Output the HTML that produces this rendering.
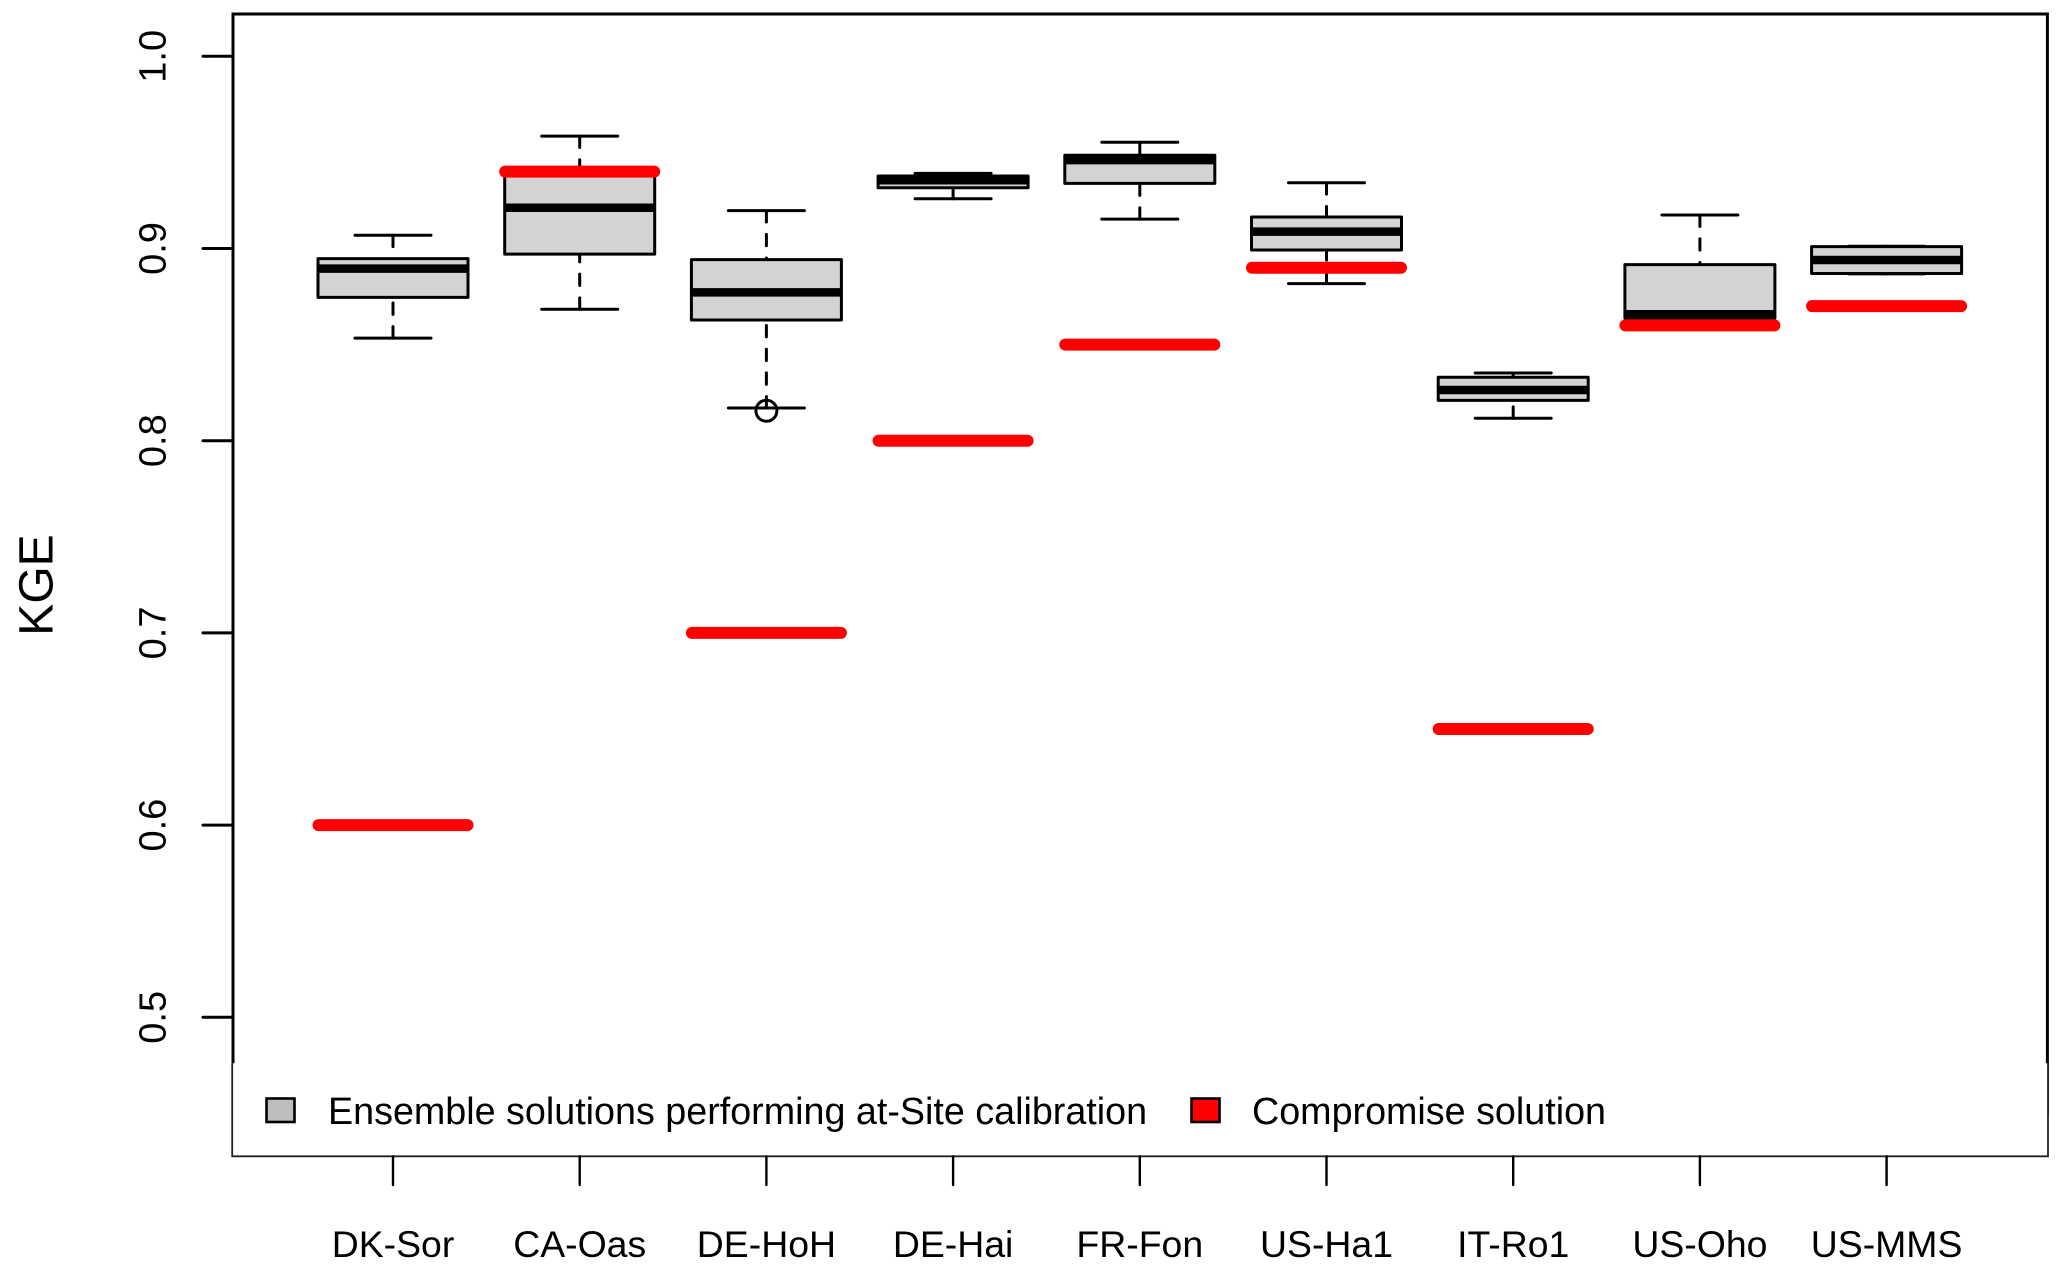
<!DOCTYPE html>
<html lang="en">
<head>
<meta charset="utf-8">
<title>KGE boxplot by site</title>
<style>
html,body{margin:0;padding:0;background:#fff;width:2067px;height:1270px;overflow:hidden}
svg{display:block;font-family:"Liberation Sans",Arial,Helvetica,sans-serif}
text{fill:#000}
</style>
</head>
<body>
<svg id="chart" xmlns="http://www.w3.org/2000/svg" width="2067" height="1270" viewBox="0 0 2067 1270">
  <rect x="0" y="0" width="2067" height="1270" fill="#fff"/>
  <rect x="233" y="14" width="1814.4" height="1100" fill="none" stroke="#000" stroke-width="3"/>
  <g id="marks"></g>
  <g id="y-axis"></g>
  <text x="52.5" y="585" font-size="48" text-anchor="middle" transform="rotate(-90 52.5 585)">KGE</text>
  <g>
    <rect x="232.2" y="1063.3" width="1815.8" height="93" fill="#fff"/>
    <polyline points="232.2,1063.3 232.2,1156.3 2048,1156.3 2048,1063.3" fill="none" stroke="#222" stroke-width="1.8"/>
    <rect x="266.5" y="1098.5" width="28" height="23.5" fill="#bebebe" stroke="#000" stroke-width="2.6"/>
    <text x="328" y="1123.8" font-size="37.7">Ensemble solutions performing at-Site calibration</text>
    <rect x="1191.5" y="1098.5" width="28" height="23.5" fill="#ff0000" stroke="#000" stroke-width="2.6"/>
    <text x="1252" y="1123.8" font-size="37.7">Compromise solution</text>
  </g>
  <g id="x-axis"></g>
</svg>
<script>
const sites = ["DK-Sor","CA-Oas","DE-HoH","DE-Hai","FR-Fon","US-Ha1","IT-Ro1","US-Oho","US-MMS"];
const whiskerHigh = [0.9069,0.9585,0.9197,0.9391,0.9553,0.9342,0.8352,0.9174,0.9012];
const upperQuartile = [0.8947,0.9400,0.8942,0.9377,0.9485,0.9164,0.8330,0.8916,0.9010];
const medians = [0.8895,0.9212,0.8772,0.9355,0.9460,0.9088,0.8264,0.8658,0.8940];
const lowerQuartile = [0.8746,0.8971,0.8628,0.9316,0.9339,0.8992,0.8210,0.8638,0.8870];
const whiskerLow = [0.8534,0.8684,0.8170,0.9259,0.9153,0.8817,0.8117,0.8635,0.8868];
const compromise = [0.60,0.94,0.70,0.80,0.85,0.89,0.65,0.86,0.87];
const outlierSites = [2];
const outlierValues = [0.8156];
const yTickValues = [0.5,0.6,0.7,0.8,0.9,1.0];
const yTickLabels = ["0.5","0.6","0.7","0.8","0.9","1.0"];

const SVG_NS = "http://www.w3.org/2000/svg";
function yScale(v){ return 56.3 + (1 - v) * 1922; }
function xScale(i){ return 393 + i * 186.7; }
function make(tag, parent, attrs){
  const el = document.createElementNS(SVG_NS, tag);
  for (const k in attrs) el.setAttribute(k, attrs[k]);
  parent.appendChild(el);
  return el;
}
const marks = document.getElementById("marks");
const yAxis = document.getElementById("y-axis");
const xAxis = document.getElementById("x-axis");
const LW = 3, BOX_HALF = 75, CAP_HALF = 38, RED_HALF = 74.5;

sites.forEach(function(site, i){
  const cx = xScale(i);
  const group = make("g", marks, {});
  
  

  const upperWhisker = make("line", group, {x1:cx, x2:cx, y1:yScale(whiskerHigh[i]), y2:yScale(upperQuartile[i]), stroke:"#000", "stroke-width":LW, "stroke-dasharray":"11.4 12.3", "stroke-linecap":"round"});
  
  

  const lowerWhisker = make("line", group, {x1:cx, x2:cx, y1:yScale(whiskerLow[i]), y2:yScale(lowerQuartile[i]), stroke:"#000", "stroke-width":LW, "stroke-dasharray":"11.4 12.3", "stroke-linecap":"round"});
  
  

  const upperCap = make("line", group, {x1:cx-CAP_HALF, x2:cx+CAP_HALF, y1:yScale(whiskerHigh[i]), y2:yScale(whiskerHigh[i]), stroke:"#000", "stroke-width":LW, "stroke-linecap":"round"});
  
  

  const lowerCap = make("line", group, {x1:cx-CAP_HALF, x2:cx+CAP_HALF, y1:yScale(whiskerLow[i]), y2:yScale(whiskerLow[i]), stroke:"#000", "stroke-width":LW, "stroke-linecap":"round"});
  
  

  const box = make("rect", group, {x:cx-BOX_HALF, width:BOX_HALF*2, y:yScale(upperQuartile[i]), height:yScale(lowerQuartile[i])-yScale(upperQuartile[i]), fill:"#d3d3d3", stroke:"#000", "stroke-width":LW, "stroke-linejoin":"round"});
  
  

  const median = make("line", group, {x1:cx-BOX_HALF, x2:cx+BOX_HALF, y1:yScale(medians[i]), y2:yScale(medians[i]), stroke:"#000", "stroke-width":8.5});
  
  
});

outlierValues.forEach(function(v, k){
  const dot = make("circle", marks, {cx:xScale(outlierSites[k]), cy:yScale(v), r:10.5, fill:"none", stroke:"#000", "stroke-width":LW});
  
  
});

compromise.forEach(function(v, i){
  const cx = xScale(i);
  const bar = make("line", marks, {x1:cx-RED_HALF, x2:cx+RED_HALF, y1:yScale(v), y2:yScale(v), stroke:"#ff0000", "stroke-width":12, "stroke-linecap":"round"});
  
  
});

yTickValues.forEach(function(v, i){
  const y = yScale(v);
  const tick = make("line", yAxis, {x1:203, x2:233, y1:y, y2:y, stroke:"#000", "stroke-width":LW, "stroke-linecap":"round"});
  
  
  const label = make("text", yAxis, {x:165.5, y:y, "font-size":38, "text-anchor":"middle", transform:"rotate(-90 165.5 " + y + ")"});
  
  
  label.textContent = yTickLabels[i];
});

sites.forEach(function(site, i){
  const x = xScale(i);
  const tick = make("line", xAxis, {x1:x, x2:x, y1:1156.3, y2:1185, stroke:"#000", "stroke-width":2.4, "stroke-linecap":"round"});
  
  
  const label = make("text", xAxis, {x:x, y:1257, "font-size":37.4, "text-anchor":"middle"});
  
  
  label.textContent = site;
});
</script>
</body>
</html>
